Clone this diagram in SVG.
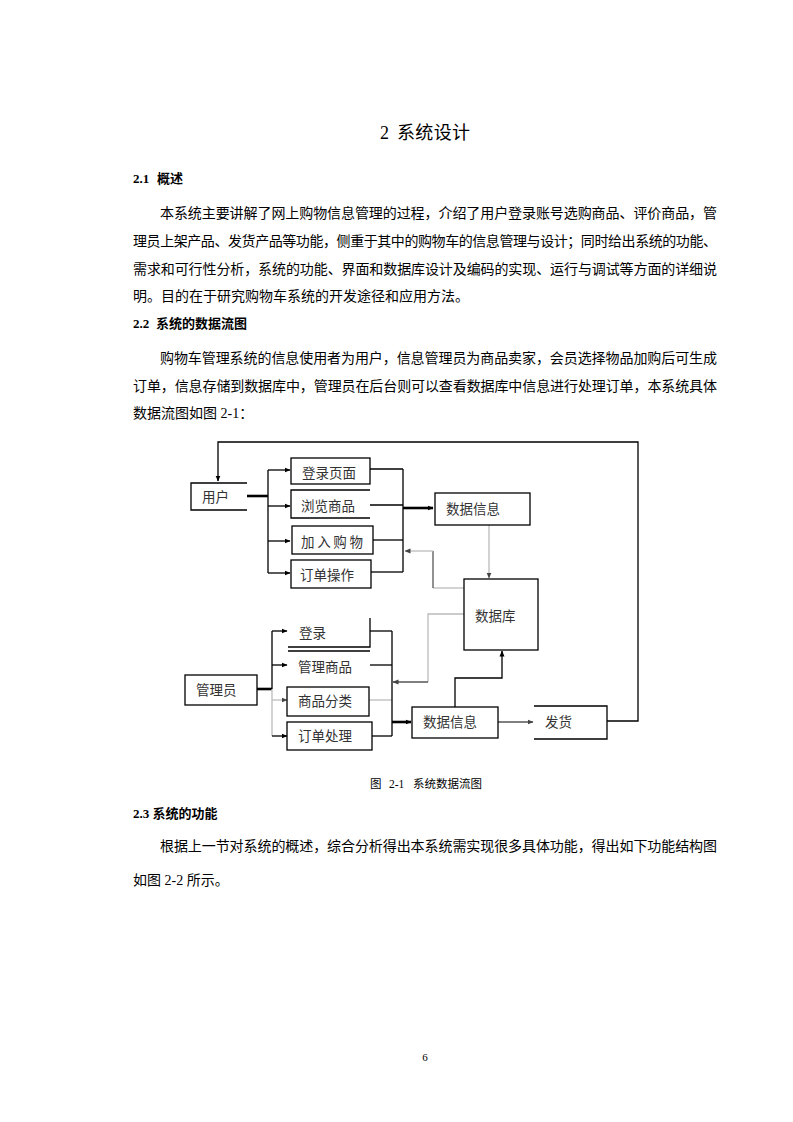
<svg xmlns="http://www.w3.org/2000/svg" width="793" height="1122" viewBox="0 0 793 1122">
<style>
.t{font-family:"Liberation Serif","Noto Sans CJK SC",serif;fill:#000}
.b{font-size:14px}
.h{font-size:13px;font-weight:bold}
.n{font-family:"Liberation Serif","Noto Sans CJK SC",serif;font-size:13.5px;fill:#333}
.box{fill:none;stroke:#000;stroke-width:1.3}
.c{fill:none;stroke:#000;stroke-width:1.3}
.k{fill:none;stroke:#000;stroke-width:2.6}
.g{fill:none;stroke:#bbb;stroke-width:1.3}
.d{fill:none;stroke:#555;stroke-width:1.3}
</style>
<defs>
<marker id="a" viewBox="0 0 6 6" refX="5.5" refY="3" markerWidth="6" markerHeight="6" markerUnits="userSpaceOnUse" orient="auto"><path d="M0,0.5 L6,3 L0,5.5 z" fill="#000"/></marker>
<marker id="ag" viewBox="0 0 6 6" refX="5.5" refY="3" markerWidth="6" markerHeight="6" markerUnits="userSpaceOnUse" orient="auto"><path d="M0,0.5 L6,3 L0,5.5 z" fill="#444"/></marker>
</defs>
<rect width="793" height="1122" fill="#fff"/>

<g id="page-text">
<text class="t" y="139" font-size="18"><tspan x="380">2</tspan><tspan x="397" textLength="73" lengthAdjust="spacing">系统设计</tspan></text>
<text class="t h" y="183"><tspan x="133">2.1</tspan><tspan x="157">概述</tspan></text>
<text class="t b" x="160" y="218" textLength="557" lengthAdjust="spacing">本系统主要讲解了网上购物信息管理的过程，介绍了用户登录账号选购商品、评价商品，管</text>
<text class="t b" x="133" y="246" textLength="584" lengthAdjust="spacing">理员上架产品、发货产品等功能，侧重于其中的购物车的信息管理与设计；同时给出系统的功能、</text>
<text class="t b" x="133" y="274" textLength="584" lengthAdjust="spacing">需求和可行性分析，系统的功能、界面和数据库设计及编码的实现、运行与调试等方面的详细说</text>
<text class="t b" x="133" y="301">明。目的在于研究购物车系统的开发途径和应用方法。</text>
<text class="t h" y="328"><tspan x="133">2.2</tspan><tspan x="156">系统的数据流图</tspan></text>
<text class="t b" x="160" y="363" textLength="557" lengthAdjust="spacing">购物车管理系统的信息使用者为用户，信息管理员为商品卖家，会员选择物品加购后可生成</text>
<text class="t b" x="133" y="391" textLength="584" lengthAdjust="spacing">订单，信息存储到数据库中，管理员在后台则可以查看数据库中信息进行处理订单，本系统具体</text>
<text class="t b" x="133" y="418">数据流图如图 2-1：</text>
<text class="t" y="788" font-size="11.5" fill="#333"><tspan x="370">图</tspan><tspan x="389">2-1</tspan><tspan x="413">系统数据流图</tspan></text>
<text class="t h" x="133" y="818">2.3 系统的功能</text>
<text class="t b" x="160" y="851" textLength="557" lengthAdjust="spacing">根据上一节对系统的概述，综合分析得出本系统需实现很多具体功能，得出如下功能结构图</text>
<text class="t b" x="133" y="885">如图 2-2 所示。</text>
<text class="t" x="425" y="1061" font-size="11" text-anchor="middle">6</text>
</g>

<g id="connectors">
<polyline class="c" points="607,721 638,721 638,442 218,442 218,481" marker-end="url(#a)"/>
<line class="k" x1="247" y1="496" x2="268" y2="496"/>
<line class="c" x1="268" y1="470" x2="268" y2="573"/>
<line class="c" x1="268" y1="470" x2="290" y2="470" marker-end="url(#a)"/>
<line class="c" x1="268" y1="506" x2="290" y2="506" marker-end="url(#a)"/>
<line class="c" x1="268" y1="541" x2="290" y2="541" marker-end="url(#a)"/>
<line class="c" x1="268" y1="573" x2="290" y2="573" marker-end="url(#a)"/>
<line class="c" x1="370" y1="469" x2="403" y2="469"/>
<line class="c" x1="370" y1="505" x2="403" y2="505"/>
<line class="c" x1="373" y1="540" x2="403" y2="540"/>
<line class="c" x1="371" y1="572" x2="403" y2="572"/>
<line class="c" x1="403" y1="469" x2="403" y2="572"/>
<line class="k" x1="403" y1="508" x2="433" y2="508" marker-end="url(#a)"/>
<line class="g" x1="489" y1="525" x2="489" y2="578" marker-end="url(#ag)"/>
<polyline class="g" points="464,588 433,588"/>
<polyline class="d" points="433,588 433,551"/>
<polyline class="g" points="433,551 405,551" marker-end="url(#ag)"/>
<polyline class="g" points="464,614 428,614 428,682"/>
<polyline class="d" points="428,682 393,682" marker-end="url(#ag)"/>
<polyline class="c" points="455,707 455,678 502,678 502,651" marker-end="url(#a)"/>
<line class="d" x1="498" y1="722" x2="533" y2="722" marker-end="url(#ag)"/>
<line class="k" x1="392" y1="722" x2="411" y2="722" marker-end="url(#a)"/>
<line class="k" x1="257" y1="689" x2="272" y2="689"/>
<line class="c" x1="272" y1="631" x2="272" y2="689"/>
<line class="g" x1="272" y1="689" x2="272" y2="736"/>
<line class="c" x1="272" y1="631" x2="287" y2="631" marker-end="url(#a)"/>
<line class="c" x1="272" y1="665" x2="287" y2="665" marker-end="url(#a)"/>
<line class="g" x1="272" y1="700" x2="287" y2="700" marker-end="url(#ag)"/>
<line class="c" x1="272" y1="736" x2="287" y2="736" marker-end="url(#a)"/>
<line class="c" x1="370" y1="631" x2="392" y2="631"/>
<line class="c" x1="370" y1="665" x2="392" y2="665"/>
<line class="g" x1="369" y1="700" x2="392" y2="700"/>
<line class="c" x1="372" y1="736" x2="392" y2="736"/>
<line class="c" x1="392" y1="631" x2="392" y2="736"/>
</g>

<g id="n-user"><path class="box" d="M247,483 H191 V510 H247"/><text class="n" x="202" y="502">用户</text></g>
<g id="n-login-page"><rect class="box" x="291" y="458" width="79" height="26"/><text class="n" x="302" y="478">登录页面</text></g>
<g id="n-browse"><path class="box" d="M370,490 H291 V518 H370"/><text class="n" x="301" y="511">浏览商品</text></g>
<g id="n-cart"><rect class="box" x="292" y="526" width="81" height="28"/><text class="n" x="301" y="547" textLength="62" lengthAdjust="spacing">加入购物</text></g>
<g id="n-order-op"><rect class="box" x="291" y="560" width="80" height="28"/><text class="n" x="300" y="580">订单操作</text></g>
<g id="n-data-info-1"><rect class="box" x="435" y="493" width="95" height="32"/><text class="n" x="446" y="514">数据信息</text></g>
<g id="n-db"><rect class="box" x="464" y="579" width="74" height="71"/><text class="n" x="475" y="621">数据库</text></g>
<g id="n-admin"><rect class="box" x="185" y="675" width="72" height="30"/><text class="n" x="196" y="695">管理员</text></g>
<g id="n-login"><path class="box" d="M370,618 V647 H288 M288,651 H370"/><text class="n" x="299" y="638">登录</text></g>
<g id="n-manage"><text class="n" x="298" y="672">管理商品</text></g>
<g id="n-category"><rect class="box" x="287" y="687" width="82" height="29"/><text class="n" x="298" y="706">商品分类</text></g>
<g id="n-order-proc"><rect class="box" x="287" y="722" width="85" height="28"/><text class="n" x="298" y="741">订单处理</text></g>
<g id="n-data-info-2"><rect class="box" x="412" y="707" width="86" height="31"/><text class="n" x="423" y="727">数据信息</text></g>
<g id="n-ship"><path class="box" d="M534,706 H607 V739 H534"/><text class="n" x="545" y="727">发货</text></g>
</svg>
